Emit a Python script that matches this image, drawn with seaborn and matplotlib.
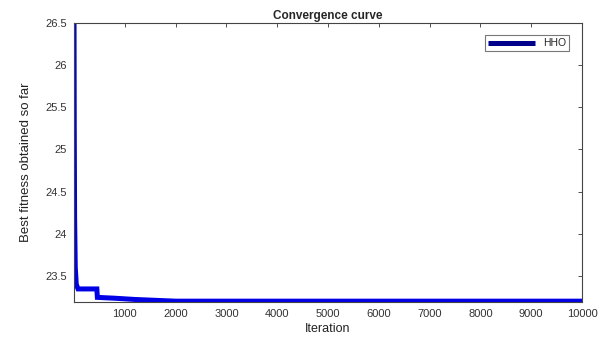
import numpy as np
import pandas as pd
import matplotlib
matplotlib.use("Agg")
import matplotlib.pyplot as plt
import seaborn as sns

# Convergence data (best fitness per iteration)
iterations = [1, 5, 12, 25, 45, 80, 450, 460, 800, 1200, 1600, 2000, 10000]
best_fitness = [26.5, 25.3, 24.2, 23.6, 23.4, 23.345, 23.345, 23.245, 23.235, 23.22, 23.21, 23.2, 23.2]
x_ticks = [1000, 2000, 3000, 4000, 5000, 6000, 7000, 8000, 9000, 10000]
y_ticks = [23.5, 24, 24.5, 25, 25.5, 26, 26.5]

df = pd.DataFrame({"Iteration": iterations, "Best": best_fitness, "algo": "HHO"})

sns.set_style("white")
plt.rcParams["font.family"] = ["Liberation Sans", "DejaVu Sans"]

fig = plt.figure(figsize=(6.13, 3.38), dpi=100)
ax = fig.add_axes([0.1207, 0.1065, 0.8287, 0.8255])

sns.lineplot(data=df, x="Iteration", y="Best", hue="algo", palette=["#0000e6"],
             linewidth=3.6, estimator=None, sort=False, ax=ax,
             solid_capstyle="butt", solid_joinstyle="miter")

ax.set_xlim(0, 10000)
ax.set_ylim(23.19, 26.5)
ax.set_xticks(x_ticks)
ax.set_yticks(y_ticks)
ax.set_yticklabels([f"{t:g}" for t in y_ticks])
ax.tick_params(direction="in", length=3, labelsize=8, colors="#333333",
               top=True, right=True, width=0.6, pad=5)
for s in ax.spines.values():
    s.set_linewidth(0.8)
    s.set_color("#444444")

ax.set_title("Convergence curve", fontsize=8.5, fontweight="bold", pad=3)
ax.set_xlabel("Iteration", fontsize=9, labelpad=3, color="#222222")
ax.set_ylabel("Best fitness obtained so far", fontsize=9.5, labelpad=10, color="#222222")

leg = ax.legend(loc="upper right", fontsize=7.5, frameon=True, fancybox=False,
                handlelength=4.5, borderpad=0.3, bbox_to_anchor=(0.985, 0.975))
leg.get_frame().set_edgecolor("#555555")
leg.get_frame().set_linewidth(0.8)
for line in leg.get_lines():
    line.set_linewidth(3.6)
    line.set_color("#00008b")
    line.set_solid_capstyle("butt")

fig.savefig("out.png", dpi=100)
